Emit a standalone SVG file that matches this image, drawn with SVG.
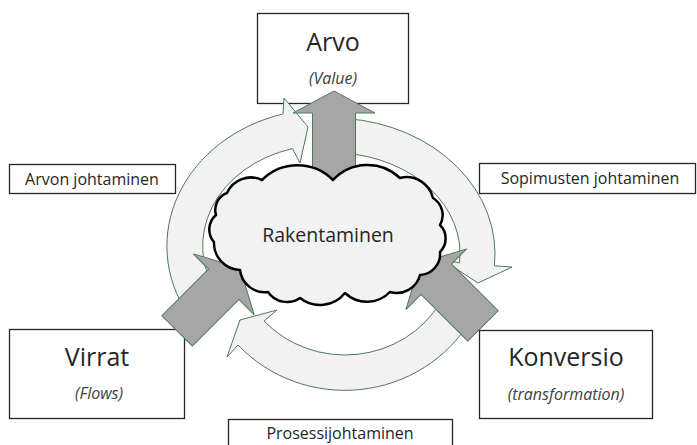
<svg xmlns="http://www.w3.org/2000/svg" width="697" height="445" viewBox="0 0 697 445">
<style>
.box{fill:#ffffff;stroke:#262626;stroke-width:1.3}
.ring{fill:#f2f2f2;stroke:#4a7a5a;stroke-width:1}
.block{fill:#a6a6a6;stroke:#4a7a5a;stroke-width:1}
.t{font-family:"Open Sans","Noto Sans",sans-serif;fill:#262626;text-anchor:middle}
.main{font-size:25px}
.sub{font-size:16px;font-style:italic;fill:#404040}
.lab{font-size:16px}
</style>
<defs>
<path id="blk" d="M0,0 L-23,43 L-23,21.5 L-89,21.5 L-89,-21.5 L-23,-21.5 L-23,-43 Z"/>
</defs>
<rect width="697" height="445" fill="#ffffff"/>
<g id="node-arvo">
<rect class="box" x="257.5" y="13.5" width="151" height="90"/>
<text class="t main" x="333" y="51">Arvo</text>
<text class="t sub" x="333" y="84">(Value)</text>
</g>
<g id="node-virrat">
<rect class="box" x="9.5" y="329.5" width="175" height="89"/>
<text class="t main" x="97" y="366">Virrat</text>
<text class="t sub" x="99" y="399">(Flows)</text>
</g>
<g id="node-konversio">
<rect class="box" x="479.5" y="330.5" width="173" height="88"/>
<text class="t main" x="566" y="366">Konversio</text>
<text class="t sub" x="566" y="400">(transformation)</text>
</g>
<g id="label-arvon">
<rect class="box" x="9.5" y="164.5" width="166" height="29"/>
<text class="t lab" x="92" y="185">Arvon johtaminen</text>
</g>
<g id="label-sopimusten">
<rect class="box" x="479.5" y="163.5" width="216" height="30"/>
<text class="t lab" x="590" y="184">Sopimusten johtaminen</text>
</g>
<g id="label-prosessi">
<rect class="box" x="228.5" y="419.5" width="224" height="40"/>
<text class="t lab" x="340" y="439">Prosessijohtaminen</text>
</g>
<g id="connectors">
<path class="ring" d="M188,314.5 A158,137 0 0,1 283,114 L284,98 L308,127 L300,163 L292.5,148.6 A122,101 0 0,0 219,296.5 Z"/>
<path class="ring" d="M346,118.5 A163,136 0 0,1 494.4,265.8 L512,267 L478,283 L443,260 L459.5,262.8 A128,101 0 0,0 343,153 Z"/>
<path class="ring" d="M470.6,320 A145,140 0 0,1 238,345 L227,357 L240,320 L277,310 L264,321 A110,105 0 0,0 440.3,302.5 Z"/>
<path class="block" d="M334,91 L375,113 L355.5,113 L355.5,200 L312.5,200 L312.5,113 L293,113 Z"/>
<use href="#blk" class="block" transform="translate(240,268) rotate(-45)"/>
<use href="#blk" class="block" transform="translate(420,263) rotate(-135)"/>
</g>
<g id="node-rakentaminen">
<path d="M227,193 A26,26 0 0,1 262,180 A50,50 0 0,1 333,180 A47,47 0 0,1 400,178 A27,27 0 0,1 433,198 A20,20 0 0,1 440,225 A19,19 0 0,1 440,252 A21,21 0 0,1 420,275 A24,24 0 0,1 390,292 A32,32 0 0,1 345,293 A32,32 0 0,1 300,298 A23,23 0 0,1 268,292 A25,25 0 0,1 240,270 A27,27 0 0,1 214,242 A19,19 0 0,1 216,215 A18,18 0 0,1 227,193 Z" fill="#f2f2f2" stroke="#000000" stroke-width="2.5" stroke-linejoin="round"/>
<text class="t" x="328" y="242" font-size="19.5">Rakentaminen</text>
</g>
</svg>
